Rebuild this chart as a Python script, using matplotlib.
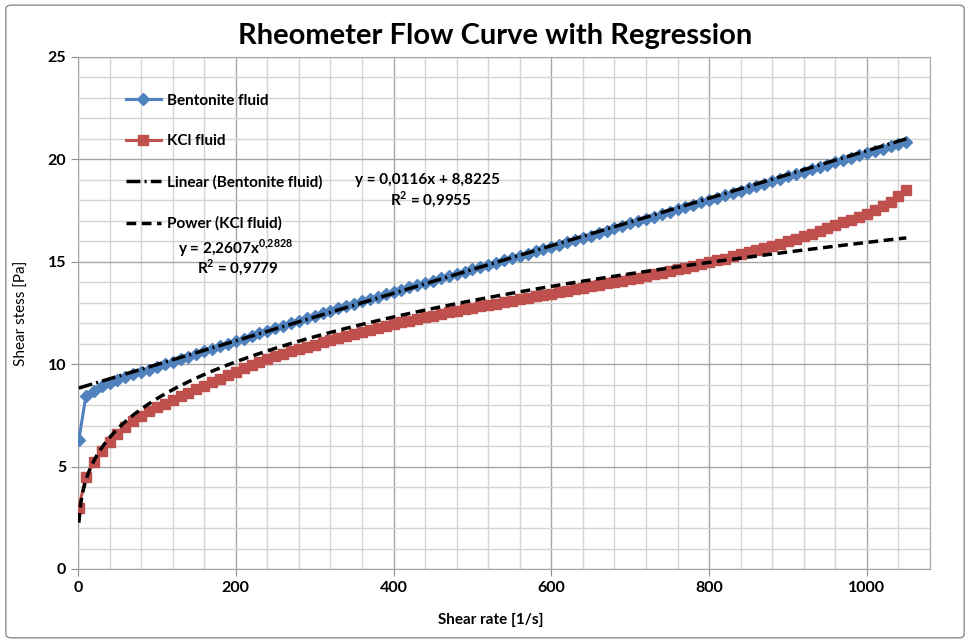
import matplotlib
matplotlib.use("Agg")
import matplotlib.pyplot as plt
import numpy as np
from matplotlib.patches import FancyBboxPatch
from matplotlib.ticker import MultipleLocator

plt.rcParams["font.family"] = ["Lato", "DejaVu Sans"]
plt.rcParams["mathtext.fontset"] = "custom"
plt.rcParams["mathtext.rm"] = "Lato"
plt.rcParams["mathtext.bf"] = "Lato:bold"

# shear rate [1/s]
shear_rate = [
    1, 10, 20, 30, 40, 50, 60, 70, 80, 90,
    100, 110, 120, 130, 140, 150, 160, 170, 180, 190,
    200, 210, 220, 230, 240, 250, 260, 270, 280, 290,
    300, 310, 320, 330, 340, 350, 360, 370, 380, 390,
    400, 410, 420, 430, 440, 450, 460, 470, 480, 490,
    500, 510, 520, 530, 540, 550, 560, 570, 580, 590,
    600, 610, 620, 630, 640, 650, 660, 670, 680, 690,
    700, 710, 720, 730, 740, 750, 760, 770, 780, 790,
    800, 810, 820, 830, 840, 850, 860, 870, 880, 890,
    900, 910, 920, 930, 940, 950, 960, 970, 980, 990,
    1000, 1010, 1020, 1030, 1040, 1050,
]

# shear stress [Pa]
bentonite = [
    6.3, 8.45, 8.7, 8.92, 9.1, 9.25, 9.38, 9.5, 9.62, 9.74,
    9.86, 9.99, 10.11, 10.24, 10.37, 10.49, 10.62, 10.74, 10.87, 10.99,
    11.12, 11.25, 11.38, 11.5, 11.63, 11.76, 11.88, 12.0, 12.13, 12.25,
    12.37, 12.49, 12.6, 12.72, 12.84, 12.95, 13.07, 13.18, 13.3, 13.41,
    13.53, 13.64, 13.75, 13.86, 13.97, 14.08, 14.19, 14.3, 14.41, 14.52,
    14.63, 14.74, 14.85, 14.96, 15.07, 15.18, 15.29, 15.4, 15.51, 15.62,
    15.73, 15.84, 15.95, 16.06, 16.17, 16.28, 16.4, 16.52, 16.64, 16.75,
    16.87, 16.98, 17.1, 17.21, 17.33, 17.44, 17.56, 17.67, 17.79, 17.9,
    18.02, 18.13, 18.25, 18.36, 18.48, 18.59, 18.71, 18.82, 18.94, 19.05,
    19.17, 19.28, 19.4, 19.51, 19.62, 19.74, 19.85, 19.96, 20.08, 20.19,
    20.3, 20.41, 20.52, 20.63, 20.74, 20.85,
]

kcl = [
    3.0, 4.5, 5.2, 5.75, 6.2, 6.6, 6.95, 7.22, 7.47, 7.7,
    7.9, 8.08, 8.26, 8.44, 8.61, 8.78, 8.95, 9.12, 9.3, 9.47,
    9.64, 9.8, 9.95, 10.1, 10.25, 10.38, 10.5, 10.62, 10.74, 10.85,
    10.96, 11.06, 11.16, 11.26, 11.36, 11.46, 11.56, 11.66, 11.76, 11.86,
    11.96, 12.05, 12.13, 12.21, 12.29, 12.37, 12.45, 12.53, 12.61, 12.68,
    12.75, 12.82, 12.89, 12.96, 13.03, 13.1, 13.17, 13.24, 13.31, 13.38,
    13.45, 13.52, 13.59, 13.66, 13.73, 13.8, 13.87, 13.94, 14.01, 14.08,
    14.15, 14.23, 14.31, 14.39, 14.47, 14.55, 14.63, 14.71, 14.8, 14.89,
    14.98, 15.07, 15.16, 15.26, 15.36, 15.46, 15.56, 15.66, 15.77, 15.88,
    16.0, 16.12, 16.24, 16.37, 16.5, 16.64, 16.78, 16.92, 17.06, 17.2,
    17.35, 17.52, 17.7, 17.9, 18.2, 18.5,
]

# regression coefficients shown on the chart
lin_slope, lin_icpt = 0.0116, 8.8225
pow_coef, pow_exp = 2.2607, 0.2828

fig = plt.figure(figsize=(9.74, 6.43), dpi=100)
ax = fig.add_axes([0.0801, 0.1151, 0.8747, 0.7963])

# chart border
fig.patches.append(FancyBboxPatch((0.006, 0.008), 0.984, 0.984,
                                  boxstyle="round,pad=0,rounding_size=0.006",
                                  transform=fig.transFigure, fill=False,
                                  edgecolor="#8c8c8c", linewidth=1.0))

x = np.array(shear_rate, dtype=float)
ax.plot(x, bentonite, color="#4F81BD", marker="D", markersize=6, linewidth=2.2,
        label="Bentonite fluid", zorder=3)
ax.plot(x, kcl, color="#C0504D", marker="s", markersize=7.5, linewidth=2.2,
        label="KCl fluid", zorder=3)

xt = np.linspace(x.min(), x.max(), 400)
ax.plot(xt, lin_slope * xt + lin_icpt, color="black", linewidth=2.5,
        dashes=(4, 1.2, 0.6, 1.2), label="Linear (Bentonite fluid)", zorder=4)
ax.plot(xt, pow_coef * xt ** pow_exp, color="black", linewidth=2.5,
        dashes=(2.8, 1.6), label="Power (KCl fluid)", zorder=4)

ax.set_xlim(0, 1080)
ax.set_ylim(0, 25)
ax.xaxis.set_major_locator(MultipleLocator(200))
ax.xaxis.set_minor_locator(MultipleLocator(40))
ax.yaxis.set_major_locator(MultipleLocator(5))
ax.yaxis.set_minor_locator(MultipleLocator(1))
ax.grid(which="major", color="#a6a6a6", linewidth=1.0, zorder=0)
ax.grid(which="minor", color="#d4d4d4", linewidth=1.0, zorder=0)
ax.set_axisbelow(True)
for s in ax.spines.values():
    s.set_color("#a6a6a6")
ax.tick_params(which="major", length=5, color="#8c8c8c", labelsize=11.5)
ax.tick_params(which="minor", length=0)
for lab in ax.get_xticklabels() + ax.get_yticklabels():
    lab.set_fontweight("bold")

ax.set_xlabel("Shear rate [1/s]", fontsize=11, fontweight="bold")
ax.set_ylabel("Shear stess [Pa]", fontsize=11)
ax.xaxis.set_label_coords(0.484, -0.085)
ax.yaxis.set_label_coords(-0.058, 0.5)
fig.suptitle("Rheometer Flow Curve with Regression", x=0.508, y=0.965,
             fontsize=21, fontweight="bold")

leg = ax.legend(loc="upper left", bbox_to_anchor=(0.04, 0.955), frameon=False,
                labelspacing=1.75, handlelength=2.3, handletextpad=0.4,
                prop={"size": 11, "weight": "bold"})

ax.text(0.325, 0.760, "y = 0,0116x + 8,8225", transform=ax.transAxes,
        fontsize=11, fontweight="bold", ha="left", va="center")
ax.text(0.366, 0.721, r"R$^{\mathbf{2}}$ = 0,9955", transform=ax.transAxes,
        fontsize=11, fontweight="bold", ha="left", va="center")
ax.text(0.117, 0.627, r"y = 2,2607x$^{\mathbf{0{,}2828}}$", transform=ax.transAxes,
        fontsize=11, fontweight="bold", ha="left", va="center")
ax.text(0.140, 0.588, r"R$^{\mathbf{2}}$ = 0,9779", transform=ax.transAxes,
        fontsize=11, fontweight="bold", ha="left", va="center")

fig.savefig("out.png", dpi=100)
